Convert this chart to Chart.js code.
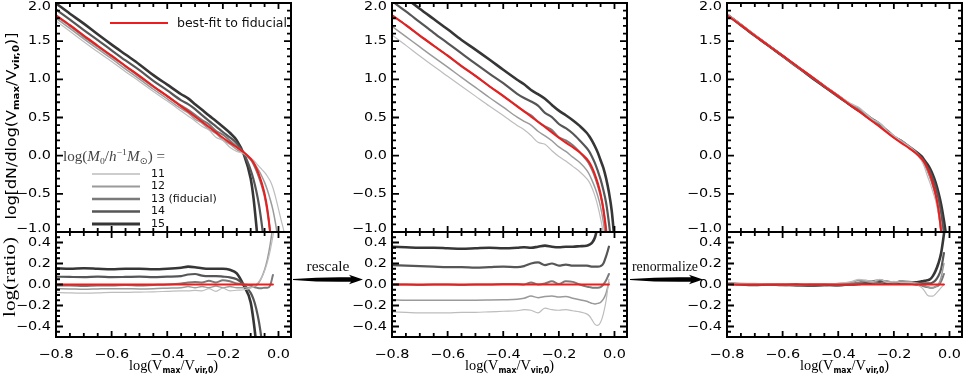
<!DOCTYPE html>
<html>
<head>
<meta charset="utf-8">
<script src="https://cdn.jsdelivr.net/npm/chart.js@4.4.1/dist/chart.umd.min.js"></script>
<style>
  html, body { margin: 0; padding: 0; background: #fff; }
  #fig { position: relative; width: 964px; height: 375px; overflow: hidden; }
  #fig canvas { position: absolute; top: 0; }
</style>
</head>
<body>
<div id="fig">
  <canvas id="c1" width="300" height="375" style="left:0px;width:300px;height:375px"></canvas>
  <canvas id="c2" width="345" height="375" style="left:290px;width:345px;height:375px"></canvas>
  <canvas id="c3" width="338" height="375" style="left:626px;width:338px;height:375px"></canvas>
</div>
<script>
// log(Vmax/Vvir,0) sample points shared by every curve
const xs = [-0.8, -0.75, -0.7, -0.65, -0.6, -0.55, -0.5, -0.45, -0.4, -0.35, -0.325, -0.3, -0.275, -0.25,
  -0.225, -0.2, -0.175, -0.15, -0.125, -0.1, -0.09, -0.08, -0.07, -0.06, -0.05, -0.04, -0.03, -0.02,
  -0.01, 0.0, 0.01, 0.02, 0.03];

const massLabels = ["11", "12", "13 (fiducial)", "14", "15"];

// best-fit to fiducial (same in all three panels)
const fitCurve = [1.84, 1.71, 1.575, 1.44, 1.31, 1.175, 1.045, 0.91, 0.78, 0.645, 0.58, 0.51, 0.445, 0.375,
  0.305, 0.235, 0.17, 0.11, 0.045, -0.04, -0.09, -0.16, -0.25, -0.36, -0.5, -0.7, -1.0, -1.45];
const fitRatio = [0, 0, 0, 0, 0, 0, 0, 0, 0, 0, 0, 0, 0, 0, 0, 0, 0, 0, 0, 0, 0, 0, 0, 0, 0, 0, 0, 0];

// left column: raw functions
const raw11 = [1.765, 1.63, 1.493, 1.36, 1.235, 1.10, 0.973, 0.84, 0.715, 0.585, 0.52, 0.455, 0.385, 0.335,
  0.24, 0.2, 0.11, 0.055, 0.03, -0.03, -0.06, -0.1, -0.14, -0.18, -0.22, -0.27, -0.33, -0.42, -0.55, -0.7,
  -0.85, -1.0, -1.2];
const raw12 = [1.80, 1.668, 1.53, 1.398, 1.27, 1.135, 1.003, 0.87, 0.745, 0.615, 0.56, 0.48, 0.425, 0.345,
  0.29, 0.205, 0.15, 0.08, 0.025, -0.05, -0.09, -0.14, -0.2, -0.27, -0.35, -0.45, -0.57, -0.71, -0.9, -1.15];
const raw13 = [1.83, 1.70, 1.56, 1.43, 1.30, 1.17, 1.035, 0.905, 0.78, 0.655, 0.60, 0.535, 0.465, 0.41,
  0.325, 0.275, 0.2, 0.12, 0.045, -0.05, -0.11, -0.19, -0.285, -0.395, -0.53, -0.73, -1.01, -1.4];
const raw14 = [1.915, 1.782, 1.645, 1.515, 1.38, 1.247, 1.12, 0.98, 0.855, 0.725, 0.675, 0.61, 0.53, 0.455,
  0.385, 0.31, 0.24, 0.16, 0.03, -0.19, -0.31, -0.46, -0.65, -0.9, -1.2];
const raw15 = [1.995, 1.86, 1.73, 1.59, 1.455, 1.325, 1.195, 1.055, 0.93, 0.805, 0.75, 0.675, 0.6, 0.525,
  0.455, 0.38, 0.3, 0.2, 0.02, -0.3, -0.55, -0.9, -1.3];

const rawRatio11 = [-0.075, -0.08, -0.082, -0.08, -0.075, -0.075, -0.072, -0.07, -0.065, -0.06, -0.06, -0.055,
  -0.06, -0.04, -0.065, -0.035, -0.06, -0.055, -0.05, -0.035, -0.02, 0.0, 0.03, 0.07, 0.13, 0.21, 0.32, 0.46, 0.62];
const rawRatio12 = [-0.04, -0.042, -0.045, -0.042, -0.04, -0.04, -0.042, -0.04, -0.035, -0.03, -0.02, -0.03,
  -0.02, -0.03, -0.015, -0.03, -0.02, -0.03, -0.03, -0.025, -0.02, -0.01, 0.02, 0.07, 0.14, 0.24, 0.38, 0.56];
const rawRatio13 = [-0.01, -0.01, -0.015, -0.01, -0.01, -0.005, -0.01, -0.005, 0.0, 0.01, 0.02, 0.025, 0.02,
  0.035, 0.02, 0.04, 0.03, 0.01, 0.0, -0.01, -0.02, -0.03, -0.035, -0.035, -0.03, -0.03, -0.01, 0.09];
const rawRatio14 = [0.075, 0.072, 0.07, 0.075, 0.07, 0.072, 0.075, 0.07, 0.075, 0.08, 0.095, 0.1, 0.085, 0.08,
  0.08, 0.075, 0.068, 0.05, 0.0, -0.08, -0.14, -0.23, -0.36, -0.54, -0.8];
const rawRatio15 = [0.155, 0.15, 0.155, 0.15, 0.145, 0.15, 0.15, 0.145, 0.15, 0.16, 0.17, 0.165, 0.155, 0.15,
  0.15, 0.15, 0.14, 0.105, -0.01, -0.17, -0.34, -0.57, -0.9];

// middle column: rescaled
const resc11 = [1.58, 1.445, 1.305, 1.17, 1.04, 0.91, 0.78, 0.65, 0.525, 0.395, 0.34, 0.265, 0.175, 0.15,
  0.065, -0.01, -0.07, -0.14, -0.21, -0.3, -0.35, -0.43, -0.53, -0.66, -0.82, -1.02, -1.3];
const resc12 = [1.695, 1.56, 1.425, 1.29, 1.16, 1.025, 0.895, 0.762, 0.635, 0.505, 0.45, 0.4, 0.32, 0.26,
  0.195, 0.115, 0.055, -0.02, -0.09, -0.19, -0.25, -0.33, -0.42, -0.53, -0.67, -0.87, -1.15];
const resc13 = [1.84, 1.71, 1.57, 1.44, 1.31, 1.17, 1.045, 0.91, 0.785, 0.65, 0.58, 0.53, 0.445, 0.385,
  0.335, 0.24, 0.2, 0.135, 0.045, -0.06, -0.115, -0.19, -0.28, -0.39, -0.525, -0.7, -0.96, -1.35];
const resc14 = [2.025, 1.89, 1.75, 1.61, 1.475, 1.34, 1.205, 1.075, 0.95, 0.81, 0.755, 0.71, 0.655, 0.56,
  0.505, 0.415, 0.36, 0.29, 0.2, 0.1, 0.05, -0.02, -0.1, -0.2, -0.31, -0.45, -0.62, -0.88, -1.2];
const resc15 = [2.2, 2.065, 1.925, 1.79, 1.655, 1.515, 1.39, 1.26, 1.125, 0.995, 0.935, 0.86, 0.805, 0.745,
  0.665, 0.59, 0.53, 0.465, 0.39, 0.3, 0.25, 0.19, 0.12, 0.04, -0.06, -0.16, -0.3, -0.48, -0.72, -1.1];

const rescRatio11 = [-0.26, -0.265, -0.27, -0.27, -0.27, -0.265, -0.265, -0.26, -0.255, -0.25, -0.24, -0.245,
  -0.27, -0.225, -0.24, -0.245, -0.24, -0.25, -0.26, -0.28, -0.3, -0.34, -0.38, -0.39, -0.36, -0.28, -0.15, 0.05];
const rescRatio12 = [-0.145, -0.15, -0.15, -0.15, -0.15, -0.15, -0.15, -0.148, -0.145, -0.14, -0.13, -0.11,
  -0.125, -0.115, -0.11, -0.12, -0.115, -0.13, -0.145, -0.16, -0.17, -0.18, -0.185, -0.18, -0.17, -0.14, -0.08, 0.02];
const rescRatio13 = [0.0, 0.0, -0.005, 0.0, 0.0, -0.005, 0.0, 0.0, 0.005, 0.005, 0.0, 0.02, 0.0, 0.01, 0.03,
  0.005, 0.03, 0.025, 0.0, -0.02, -0.025, -0.03, -0.03, -0.03, -0.025, 0.0, 0.04, 0.1];
const rescRatio14 = [0.185, 0.18, 0.175, 0.17, 0.165, 0.165, 0.16, 0.165, 0.17, 0.165, 0.175, 0.2, 0.21, 0.185,
  0.2, 0.18, 0.19, 0.18, 0.18, 0.18, 0.175, 0.17, 0.17, 0.17, 0.175, 0.2, 0.27, 0.36];
const rescRatio15 = [0.36, 0.355, 0.35, 0.35, 0.345, 0.34, 0.345, 0.35, 0.345, 0.35, 0.355, 0.35, 0.36, 0.37,
  0.36, 0.355, 0.36, 0.36, 0.365, 0.37, 0.38, 0.4, 0.45, 0.56];

// right column: renormalized
const renorm11 = [1.855, 1.72, 1.585, 1.445, 1.31, 1.175, 1.045, 0.915, 0.79, 0.675, 0.63, 0.55, 0.475, 0.425,
  0.325, 0.265, 0.19, 0.13, 0.055, -0.07, -0.15, -0.26, -0.36, -0.47, -0.59, -0.76, -1.03, -1.4];
const renorm12 = [1.85, 1.72, 1.58, 1.445, 1.31, 1.175, 1.05, 0.91, 0.79, 0.665, 0.62, 0.54, 0.465, 0.42,
  0.335, 0.255, 0.205, 0.14, 0.065, -0.04, -0.1, -0.18, -0.28, -0.37, -0.5, -0.66, -0.9, -1.2];
const renorm13 = [1.845, 1.71, 1.575, 1.44, 1.31, 1.17, 1.045, 0.915, 0.78, 0.655, 0.6, 0.545, 0.465, 0.385,
  0.335, 0.255, 0.195, 0.125, 0.045, -0.05, -0.11, -0.185, -0.28, -0.39, -0.52, -0.71, -0.98, -1.35];
const renorm14 = [1.85, 1.715, 1.575, 1.44, 1.305, 1.165, 1.035, 0.905, 0.77, 0.65, 0.59, 0.53, 0.475, 0.415,
  0.325, 0.245, 0.2, 0.13, 0.055, -0.03, -0.08, -0.15, -0.21, -0.3, -0.41, -0.56, -0.76, -1.03];
const renorm15 = [1.85, 1.71, 1.57, 1.44, 1.305, 1.175, 1.035, 0.905, 0.78, 0.645, 0.585, 0.52, 0.455, 0.395,
  0.32, 0.245, 0.19, 0.13, 0.065, -0.01, -0.06, -0.11, -0.17, -0.25, -0.35, -0.48, -0.64, -0.85, -1.1];

const renormRatio11 = [0.015, 0.01, 0.01, 0.005, 0.0, 0.0, 0.0, 0.005, 0.01, 0.03, 0.05, 0.04, 0.03, 0.05, 0.02,
  0.03, 0.02, 0.02, 0.01, -0.03, -0.06, -0.1, -0.11, -0.11, -0.09, -0.06, -0.03, 0.0];
const renormRatio12 = [0.01, 0.01, 0.005, 0.005, 0.0, 0.0, 0.005, 0.0, 0.01, 0.02, 0.04, 0.03, 0.02, 0.045, 0.03,
  0.02, 0.035, 0.03, 0.02, 0.0, -0.01, -0.02, -0.03, -0.03, -0.02, 0.0, 0.07, 0.2];
const renormRatio13 = [0.005, 0.0, 0.0, 0.0, 0.0, -0.005, 0.0, 0.005, 0.0, 0.01, 0.02, 0.035, 0.02, 0.01, 0.03,
  0.02, 0.025, 0.015, 0.0, -0.01, -0.02, -0.025, -0.03, -0.03, -0.02, -0.01, 0.03, 0.1];
const renormRatio14 = [0.01, 0.005, 0.0, 0.0, -0.005, -0.01, -0.01, -0.005, -0.01, 0.005, 0.01, 0.02, 0.03, 0.04,
  0.02, 0.01, 0.03, 0.02, 0.01, 0.01, 0.01, 0.01, 0.01, 0.02, 0.04, 0.08, 0.15, 0.3];
const renormRatio15 = [0.01, 0.0, -0.005, 0.0, -0.005, 0.0, -0.01, -0.005, 0.0, 0.0, 0.005, 0.01, 0.01, 0.02,
  0.015, 0.01, 0.02, 0.02, 0.02, 0.03, 0.035, 0.04, 0.05, 0.08, 0.13, 0.2, 0.3, 0.48, 0.7];

const topTicks = [-1.0, -0.5, 0.0, 0.5, 1.0, 1.5, 2.0];
const ratioTicks = [-0.4, -0.2, 0.0, 0.2, 0.4];
const xTicks = [-0.8, -0.6, -0.4, -0.2, 0.0];

const SANS = '"DejaVu Sans", sans-serif';
const SERIF = '"Liberation Serif", "DejaVu Serif", serif';
const RED = "#ee1c1c";
const simStyles = [
  { color: "#bdbdbd", width: 1.2 },
  { color: "#9a9a9a", width: 1.5 },
  { color: "#7a7a7a", width: 2 },
  { color: "#565656", width: 2.2 },
  { color: "#363636", width: 2.6 },
];

function fmt(v) {
  return v.toFixed(1).replace("-", "\u2212");
}

// text made of parts (for sub/superscripts), optionally squeezed to a width
function rich(ctx, parts, x, y, o) {
  o = o || {};
  let total = 0;
  parts.forEach((p) => {
    ctx.font = p.f;
    p.w = ctx.measureText(p.t).width;
    total += p.w;
  });
  const sx = o.width ? o.width / total : o.sx || 1;
  ctx.save();
  ctx.translate(x, y);
  if (o.rotate) ctx.rotate(-Math.PI / 2);
  ctx.scale(sx, 1);
  ctx.fillStyle = o.color || "#111";
  ctx.textAlign = "left";
  ctx.textBaseline = o.baseline || "alphabetic";
  let cx = o.align === "left" ? 0 : o.align === "right" ? -total : -total / 2;
  parts.forEach((p) => {
    ctx.font = p.f;
    ctx.fillText(p.t, cx, p.dy || 0);
    cx += p.w;
  });
  ctx.restore();
}

function arrow(ctx, x0, x1, y) {
  const xh = x1 - 12;
  ctx.save();
  ctx.fillStyle = "#000";
  ctx.beginPath();
  ctx.moveTo(x0, y - 0.4);
  ctx.quadraticCurveTo((x0 + xh) / 2, y - 2.8, xh, y - 2.2);
  ctx.lineTo(xh - 2, y - 4.8);
  ctx.lineTo(x1, y);
  ctx.lineTo(xh - 2, y + 4.8);
  ctx.lineTo(xh, y + 2.2);
  ctx.quadraticCurveTo((x0 + xh) / 2, y + 2.8, x0, y + 0.4);
  ctx.closePath();
  ctx.fill();
  ctx.restore();
}

function xTitle(ctx, cx) {
  rich(ctx, [
    { t: "log(V", f: "15px " + SERIF },
    { t: "max", f: "bold 8px " + SANS, dy: 3 },
    { t: "/V", f: "15px " + SERIF },
    { t: "vir,0", f: "bold 8px " + SANS, dy: 3 },
    { t: ")", f: "15px " + SERIF },
  ], cx, 370, { width: 89, color: "#000" });
}

// IDL-style inward ticks on every side of both panels
function tickSegments(ctx, chart) {
  const sx = chart.scales.x, yt = chart.scales.y, yr = chart.scales.yr;
  const L = sx.left, R = sx.right;
  const edges = [[yt.top, 1], [yt.bottom, -1], [yr.top, 1], [yr.bottom, -1]];
  ctx.save();
  ctx.setLineDash([]);
  ctx.globalAlpha = 1;
  ctx.beginPath();
  for (let k = -16; k <= 0; k++) {
    const px = sx.getPixelForValue(k * 0.05);
    const len = k % 4 === 0 ? 6 : 4;
    for (const [py, d] of edges) {
      ctx.moveTo(px, py);
      ctx.lineTo(px, py + d * len);
    }
  }
  for (let k = -10; k <= 20; k++) {
    const py = yt.getPixelForValue(k * 0.1);
    const len = k % 5 === 0 ? 7 : 4;
    ctx.moveTo(L, py); ctx.lineTo(L + len, py);
    ctx.moveTo(R, py); ctx.lineTo(R - len, py);
  }
  for (let k = -10; k <= 10; k++) {
    const py = yr.getPixelForValue(k * 0.05);
    const len = k % 4 === 0 ? 7 : 4;
    ctx.moveTo(L, py); ctx.lineTo(L + len, py);
    ctx.moveTo(R, py); ctx.lineTo(R - len, py);
  }
  ctx.strokeStyle = "#000";
  ctx.lineWidth = 1.8;
  ctx.lineCap = "butt";
  ctx.stroke();
  ctx.restore();
}

function framePlugin(extra) {
  return {
    id: "frames",
    afterDraw(chart) {
      const ctx = chart.ctx;
      const sx = chart.scales.x, yt = chart.scales.y, yr = chart.scales.yr;
      const L = sx.left, R = sx.right;
      ctx.save();
      ctx.strokeStyle = "#000";
      ctx.lineWidth = 2;
      ctx.strokeRect(L, yt.top, R - L, yt.bottom - yt.top);
      ctx.strokeRect(L, yr.top, R - L, yr.bottom - yr.top);
      tickSegments(ctx, chart);

      const tf = "12px " + SANS;
      topTicks.forEach((v) => {
        let py = yt.getPixelForValue(v);
        if (v === 2) py += 3.5;
        if (v === -1) py -= 3;
        rich(ctx, [{ t: fmt(v), f: tf }], L - 5, py, { align: "right", sx: 1.2, baseline: "middle", color: "#000" });
      });
      ratioTicks.forEach((v) => {
        rich(ctx, [{ t: fmt(v), f: tf }], L - 5, yr.getPixelForValue(v), { align: "right", sx: 1.2, baseline: "middle", color: "#000" });
      });
      xTicks.forEach((v) => {
        rich(ctx, [{ t: fmt(v), f: tf }], sx.getPixelForValue(v), 355, { sx: 1.2, baseline: "middle", color: "#000" });
      });
      xTitle(ctx, (L + R) / 2);
      extra(ctx, chart);
      ctx.restore();
    },
  };
}

function toPoints(arr) {
  return xs.map((x, i) => ({ x: x, y: arr[i] === undefined ? null : arr[i] }));
}

function buildColumn(id, yWidth, padRight, topSets, ratioSets, extra) {
  const datasets = [];
  topSets.forEach((arr, i) => {
    datasets.push({ data: toPoints(arr), yAxisID: "y", borderColor: simStyles[i].color, borderWidth: simStyles[i].width, order: 1 });
  });
  ratioSets.forEach((arr, i) => {
    datasets.push({ data: toPoints(arr), yAxisID: "yr", borderColor: simStyles[i].color, borderWidth: simStyles[i].width, order: 1 });
  });
  datasets.push({ data: toPoints(fitCurve), yAxisID: "y", borderColor: RED, borderWidth: 2, order: 0 });
  datasets.push({ data: toPoints(fitRatio), yAxisID: "yr", borderColor: RED, borderWidth: 2, order: 0 });

  const hidden = { ticks: { display: false }, grid: { display: false }, border: { display: false } };

  new Chart(document.getElementById(id), {
    type: "line",
    data: { datasets: datasets },
    options: {
      responsive: false,
      animation: false,
      devicePixelRatio: 1,
      layout: { padding: { top: 3, right: padRight, left: 0, bottom: 0 } },
      elements: {
        point: { radius: 0 },
        line: { cubicInterpolationMode: "monotone", fill: false, borderJoinStyle: "round", borderCapStyle: "round" },
      },
      plugins: { legend: { display: false }, tooltip: { enabled: false } },
      scales: {
        x: { type: "linear", min: -0.8, max: 0.045, ...hidden, afterFit: (s) => { s.height = 38; } },
        yr: {
          type: "linear", position: "left", stack: "col", stackWeight: 105, min: -0.5, max: 0.5, ...hidden,
          afterFit: (s) => { s.width = yWidth; },
        },
        y: {
          type: "linear", position: "left", stack: "col", stackWeight: 229, min: -1, max: 2, ...hidden,
          afterFit: (s) => { s.width = yWidth; },
        },
      },
    },
    plugins: [framePlugin(extra)],
  });
}

buildColumn("c1", 56, 9, [raw11, raw12, raw13, raw14, raw15],
  [rawRatio11, rawRatio12, rawRatio13, rawRatio14, rawRatio15], (ctx) => {
    rich(ctx, [
      { t: "log[dN/dlog(V", f: "14px " + SANS },
      { t: "max", f: "bold 9px " + SANS, dy: 3 },
      { t: "/V", f: "14px " + SANS },
      { t: "vir,0", f: "bold 9px " + SANS, dy: 3 },
      { t: ")]", f: "14px " + SANS },
    ], 16, 126, { rotate: true, width: 187, color: "#000" });
    rich(ctx, [{ t: "log(ratio)", f: "16px " + SERIF }], 15, 277, { rotate: true, width: 80, color: "#000" });

    ctx.strokeStyle = RED;
    ctx.lineWidth = 2;
    ctx.beginPath();
    ctx.moveTo(110, 23);
    ctx.lineTo(168, 23);
    ctx.stroke();
    rich(ctx, [{ t: "best-fit to fiducial", f: "12px " + SANS }], 177, 27, { align: "left", width: 110 });

    rich(ctx, [
      { t: "log(", f: "14px " + SERIF },
      { t: "M", f: "italic 14px " + SERIF },
      { t: "0", f: "9px " + SERIF, dy: 3 },
      { t: "/", f: "14px " + SERIF },
      { t: "h", f: "italic 14px " + SERIF },
      { t: "\u22121", f: "9px " + SERIF, dy: -6 },
      { t: "M", f: "italic 14px " + SERIF },
      { t: "\u2299", f: "9px " + SANS, dy: 3 },
      { t: ") =", f: "14px " + SERIF },
    ], 63, 161, { align: "left", width: 102, color: "#444" });

    const rowY = [174, 186.5, 199, 211.5, 224];
    massLabels.forEach((lab, i) => {
      ctx.strokeStyle = simStyles[i].color;
      ctx.lineWidth = simStyles[i].width + 0.4;
      ctx.beginPath();
      ctx.moveTo(92, rowY[i]);
      ctx.lineTo(140, rowY[i]);
      ctx.stroke();
      rich(ctx, [{ t: lab, f: "11px " + SANS }], 151, rowY[i], { align: "left", baseline: "middle" });
    });
  });

buildColumn("c2", 102, 8, [resc11, resc12, resc13, resc14, resc15],
  [rescRatio11, rescRatio12, rescRatio13, rescRatio14, rescRatio15], (ctx) => {
    rich(ctx, [{ t: "rescale", f: "15px " + SERIF }], 38, 271, { width: 43 });
    arrow(ctx, 3, 73, 279.5);
  });

buildColumn("c3", 101, 2, [renorm11, renorm12, renorm13, renorm14, renorm15],
  [renormRatio11, renormRatio12, renormRatio13, renormRatio14, renormRatio15], (ctx) => {
    rich(ctx, [{ t: "renormalize", f: "15px " + SERIF }], 39, 271, { width: 66 });
    arrow(ctx, 4, 77, 279.5);
  });
</script>
</body>
</html>
